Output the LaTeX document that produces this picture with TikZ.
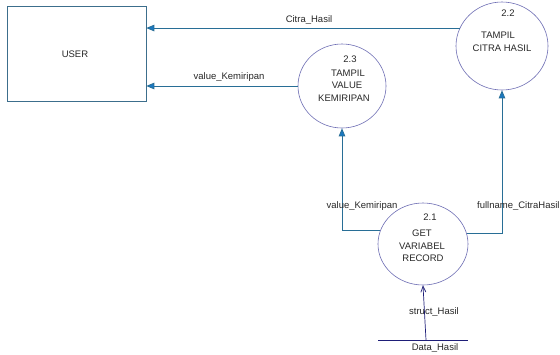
\documentclass[tikz,border=0pt]{standalone}
\usepackage{fontspec}
\setmainfont{Liberation Sans}
\usetikzlibrary{arrows.meta,shapes.geometric}
\definecolor{flowc}{RGB}{40,110,150}
\definecolor{tipc}{RGB}{26,120,194}
\definecolor{procc}{RGB}{110,110,180}
\definecolor{boxc}{RGB}{60,110,140}
\definecolor{storec}{RGB}{30,30,120}
\definecolor{txtc}{RGB}{40,40,40}
\tikzset{
  proc/.style={draw=procc,ellipse,line width=0.6pt,inner sep=0pt},
  ent/.style={draw=boxc,line width=0.6pt,inner sep=0pt},
  lbl/.style={text=txtc,font=\fontsize{9.5}{11}\selectfont,inner sep=0pt},
  flow/.style={draw=flowc,line width=0.8pt,-{Triangle[length=8pt,width=6.5pt,fill=tipc]}},
  sflow/.style={draw=storec,line width=0.7pt,-{Straight Barb[length=6pt,width=5pt]}},
}
\begin{document}
\begin{tikzpicture}[x=1pt,y=-1pt]
\useasboundingbox (0,0) rectangle (560,354);
\fill[white] (0,0) rectangle (560,354);
% entity
\node[ent,minimum width=139pt,minimum height=95pt] (user) at (76.5,53.5) {};
\node[lbl] (usert) at (75,54) {USER};
% processes
\node[proc,minimum width=92pt,minimum height=88pt] (p22) at (502,46) {};
\node[proc,minimum width=88pt,minimum height=84pt] (p23) at (342,86) {};
\node[proc,minimum width=90pt,minimum height=82pt] (p21) at (423,244) {};
% process texts
\node[lbl] (n22) at (508,13) {2.2};
\node[lbl] (t22a) at (498,35) {TAMPIL};
\node[lbl] (t22b) at (502,48) {CITRA HASIL};
\node[lbl] (n23) at (350,59) {2.3};
\node[lbl] (t23a) at (348,73) {TAMPIL};
\node[lbl] (t23b) at (347,85) {VALUE};
\node[lbl] (t23c) at (344,98) {KEMIRIPAN};
\node[lbl] (n21) at (430,217) {2.1};
\node[lbl] (t21a) at (422,233) {GET};
\node[lbl] (t21b) at (422,246) {VARIABEL};
\node[lbl] (t21c) at (423,258) {RECORD};
% data store
\coordinate (dsl) at (378,340);
\coordinate (dsr) at (468,340);
\draw[draw=storec,line width=0.7pt] (dsl) -- (dsr);
\coordinate (dsm) at (426,340);
\node[lbl] (dst) at (435,348) {Data\_Hasil};
% flows
\draw[flow] (p22.157) -- (p22.157 -| user.east);
\node[lbl] (l1) at (309,20) {Citra\_Hasil};
\draw[flow] (p23.west) -- (p23.west -| user.east);
\node[lbl] (l2) at (229,77) {value\_Kemiripan};
\draw[flow] (p21.163) -| (p23.south);
\node[lbl] (l3) at (362,206) {value\_Kemiripan};
\draw[flow] (p21.14) -| (p22.south);
\node[lbl,anchor=west] (l4) at (477,206) {fullname\_CitraHasil};
\draw[sflow] (dsm) -- (p21.south);
\node[lbl] (l5) at (434,312) {struct\_Hasil};
\end{tikzpicture}
\end{document}
